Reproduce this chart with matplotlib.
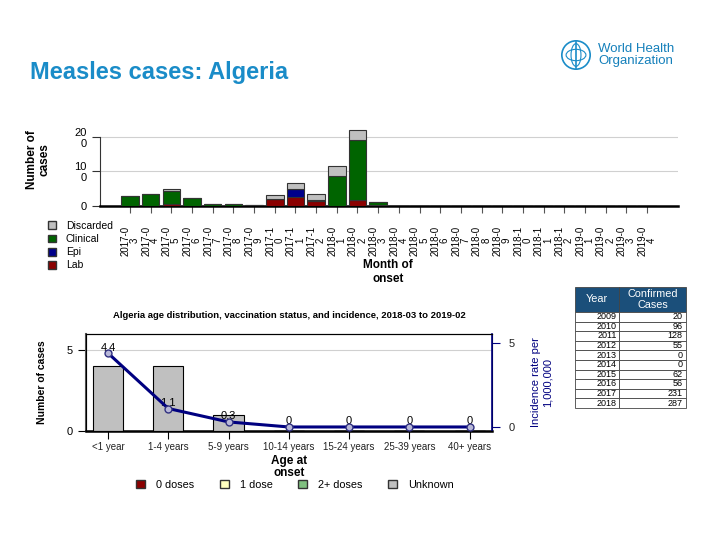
import numpy as np
import matplotlib
matplotlib.use('Agg')
import matplotlib.pyplot as plt
from matplotlib.patches import Patch, Circle, Ellipse

plt.rcParams['font.family'] = ['Liberation Sans', 'DejaVu Sans']

# monthly cases by classification, 2017-03 .. 2019-04
months = ['2017-03', '2017-04', '2017-05', '2017-06', '2017-07', '2017-08', '2017-09',
          '2017-10', '2017-11', '2017-12', '2018-01', '2018-02', '2018-03', '2018-04',
          '2018-05', '2018-06', '2018-07', '2018-08', '2018-09', '2018-10', '2018-11',
          '2018-12', '2019-01', '2019-02', '2019-03', '2019-04']
lab = [0, 0, 5, 0, 0, 0, 0, 21, 25, 14, 0, 18, 3, 0, 0, 0, 0, 0, 0, 0, 0, 0, 0, 0, 0, 0]
epi = [0, 0, 0, 0, 0, 0, 0, 0, 25, 0, 0, 0, 0, 0, 0, 0, 0, 0, 0, 0, 0, 0, 0, 0, 0, 0]
clinical = [30, 36, 38, 24, 6, 6, 4, 0, 0, 2, 86, 172, 10, 1, 0, 0, 0, 0, 0, 0, 0, 0, 0, 0, 0, 0]
discarded = [0, 0, 7, 0, 0, 0, 0, 12, 16, 18, 29, 31, 0, 0, 0, 0, 0, 0, 0, 0, 0, 0, 0, 0, 0, 0]

# age distribution 2018-03 to 2019-02
age_groups = ['<1 year', '1-4 years', '5-9 years', '10-14 years', '15-24 years', '25-39 years', '40+ years']
zero_doses = [0, 0, 0, 0, 0, 0, 0]
one_dose = [0, 0, 0, 0, 0, 0, 0]
two_doses = [0, 0, 0, 0, 0, 0, 0]
unknown = [4, 4, 1, 0, 0, 0, 0]
incidence = [4.4, 1.1, 0.3, 0, 0, 0, 0]

# confirmed cases table
years = ['2009', '2010', '2011', '2012', '2013', '2014', '2015', '2016', '2017', '2018']
confirmed = [20, 96, 128, 55, 0, 0, 62, 56, 231, 287]

c_disc, c_clin, c_epi, c_lab = '#c0c0c0', '#006400', '#00008b', '#8b0000'
who_blue = '#1a8cc8'

fig = plt.figure(figsize=(7.2, 5.4), dpi=100)
W, H = 720.0, 540.0

def fx(px):
    return px / W

def fy(py):
    return 1 - py / H

fig.text(fx(30), fy(73), 'Measles cases: Algeria', fontsize=17, fontweight='bold',
         color=who_blue, va='center', ha='left')

# WHO logo (simplified)
lax = fig.add_axes([fx(558), fy(72), fx(36), 34 / H])
lax.set_xlim(-1.2, 1.2)
lax.set_ylim(-1.2, 1.2)
lax.set_aspect('equal')
lax.axis('off')
lax.add_patch(Circle((0, 0), 1.0, fill=False, ec=who_blue, lw=1.2))
lax.add_patch(Ellipse((0, 0), 1.4, 0.8, fill=False, ec=who_blue, lw=0.8))
lax.add_patch(Ellipse((0, 0), 0.7, 1.6, fill=False, ec=who_blue, lw=0.8))
lax.plot([0, 0], [-0.9, 0.95], color=who_blue, lw=1.2)
fig.text(fx(598), fy(55), 'World Health\nOrganization', fontsize=9.5, color='#1580bb',
         va='center', ha='left', linespacing=1.0)

# ---- top chart: epi curve ----
ax = fig.add_axes([fx(100), fy(206), fx(678) - fx(100), (206 - 126.6) / H])
x = np.arange(len(months))
bw = 0.85
bottom = np.zeros(len(months))
for vals, col in [(lab, c_lab), (epi, c_epi), (clinical, c_clin), (discarded, c_disc)]:
    ax.bar(x, vals, bw, bottom=bottom, color=col, edgecolor='#333333', linewidth=0.8, zorder=3)
    bottom += np.array(vals)
ax.set_xlim(-1.45, 26.5)
ax.set_ylim(0, 230)
ax.set_yticks([0, 100, 200])
ax.set_yticklabels(['0', '10\n0', '20\n0'], fontsize=8, linespacing=1.1)
ax.yaxis.grid(True, color='#d0d0d0', lw=0.8, zorder=0)
ax.set_xticks(x)
ax.set_xticklabels([m[:6] + '\n' + m[6:] for m in months], rotation=90, fontsize=7,
                   linespacing=0.9, multialignment='center')
ax.tick_params(axis='x', length=5, color='#555555', pad=9)
ax.tick_params(axis='y', length=6, color='#333333')
for s in ['top', 'right']:
    ax.spines[s].set_visible(False)
ax.spines['left'].set_bounds(0, 200)
ax.spines['left'].set_color('#333333')
ax.spines['bottom'].set_linewidth(1.8)
fig.text(fx(38), fy(160), 'Number of\ncases', rotation=90, fontsize=8.5, fontweight='bold',
         ha='center', va='center', linespacing=1.1)
fig.text(fx(388), fy(272), 'Month of\nonset', fontsize=8.5, fontweight='bold',
         ha='center', va='center', linespacing=1.3)
handles = [Patch(facecolor=c, edgecolor='#333333', label=l)
           for c, l in [(c_disc, 'Discarded'), (c_clin, 'Clinical'), (c_epi, 'Epi'), (c_lab, 'Lab')]]
fig.legend(handles=handles, loc='upper left', bbox_to_anchor=(fx(48), fy(221)), frameon=False,
           fontsize=7.5, handlelength=0.8, handleheight=0.8, handletextpad=0.9,
           labelspacing=0.3, borderaxespad=0, borderpad=0)

# ---- bottom chart: age distribution ----
ax2 = fig.add_axes([fx(86), fy(431), fx(492) - fx(86), (431 - 334) / H])
xa = np.arange(len(age_groups))
bottom = np.zeros(len(age_groups))
for vals, col in [(zero_doses, c_lab), (one_dose, '#ffffc0'), (two_doses, '#80c080'), (unknown, '#c0c0c0')]:
    ax2.bar(xa, vals, 0.5, bottom=bottom, color=col, edgecolor='black', linewidth=0.8, zorder=3)
    bottom += np.array(vals)
ax2.set_xlim(-0.365, 6.37)
ax2.set_ylim(0, 6)
ax2.set_yticks([0, 5])
ax2.yaxis.grid(True, color='#d0d0d0', lw=0.8, zorder=0)
ax2.set_xticks(xa)
ax2.set_xticklabels(age_groups, fontsize=7, color='#222222')
ax2.tick_params(axis='x', length=6, pad=2)
ax2.tick_params(axis='y', labelsize=8, length=6)
ax2.spines['bottom'].set_linewidth(1.8)
ax2.spines['left'].set_color('#555555')
ax2.spines['left'].set_linewidth(1.5)
ax2.set_ylabel('Number of cases', fontsize=7.5, fontweight='bold', labelpad=14)

axr = ax2.twinx()
axr.set_ylim(-0.24, 5.54)
axr.plot(xa, incidence, color='#000080', lw=2.2, marker='o', ms=5,
         mfc='#b8b8d8', mec='#303080', mew=1, zorder=5)
for xi, v in zip(xa, incidence):
    axr.annotate('{:g}'.format(v), (xi, v), xytext=(0, 4), textcoords='offset points',
                 ha='center', va='center', fontsize=8)
axr.set_yticks([0, 5])
axr.tick_params(axis='y', colors='#000080', labelcolor='#222222', labelsize=8, length=6, pad=6)
axr.spines['right'].set_color('#000080')
axr.spines['right'].set_linewidth(1.2)
axr.set_ylabel('Incidence rate per\n1,000,000', fontsize=8, color='#000080', labelpad=12,
               linespacing=1.1)

fig.text(fx(289), fy(315), 'Algeria age distribution, vaccination status, and incidence, 2018-03 to 2019-02',
         fontsize=6.8, fontweight='bold', ha='center', va='center')
fig.text(fx(289), fy(467), 'Age at\nonset', fontsize=8.5, fontweight='bold',
         ha='center', va='center', linespacing=1.1)
handles2 = [Patch(facecolor=c, edgecolor='#333333', label=l)
            for c, l in [(c_lab, '0 doses'), ('#ffffc0', '1 dose'), ('#80c080', '2+ doses'), ('#c0c0c0', 'Unknown')]]
fig.legend(handles=handles2, loc='center', bbox_to_anchor=(fx(295), fy(485)), ncol=4, frameon=False,
           fontsize=7.8, handlelength=0.8, handleheight=0.8, handletextpad=1.0,
           columnspacing=2.4, borderaxespad=0, borderpad=0)

# ---- table ----
tax = fig.add_axes([fx(575), fy(408), fx(686) - fx(575), (408 - 287) / H])
tax.axis('off')
cells = [[y, str(c)] for y, c in zip(years, confirmed)]
tbl = tax.table(cellText=cells, colLabels=['Year', 'Confirmed\nCases'], cellLoc='right',
                colWidths=[44, 67], bbox=[0, 0, 1, 1])
tbl.auto_set_font_size(False)
for (r, c), cell in tbl.get_celld().items():
    cell.set_edgecolor('#444444')
    cell.set_linewidth(0.6)
    if r == 0:
        cell.set_height(2.6)
        cell.set_facecolor('#1b4f7a')
        cell.get_text().set_color('white')
        cell.get_text().set_fontsize(7.8)
        cell.get_text().set_ha('center')
        cell._loc = 'center'
    else:
        cell.set_height(1.0)
        cell.get_text().set_fontsize(6.5)
        cell.PAD = 0.05

fig.savefig('out.png', dpi=100)
